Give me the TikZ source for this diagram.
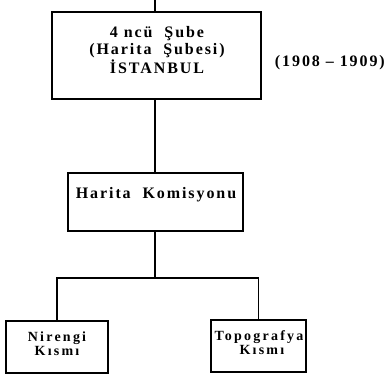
\documentclass[tikz,border=0pt]{standalone}
\usepackage{fontspec}
\setmainfont{Liberation Serif}
\newfontfamily\lsp[LetterSpace=12]{Liberation Serif}
\newfontfamily\lspw[LetterSpace=16]{Liberation Serif}
\usetikzlibrary{positioning}
\begin{document}
\begin{tikzpicture}[x=1pt,y=-1pt,
  box/.style={draw,line width=1.6pt,inner sep=0pt},
  lbl/.style={font=\lsp\bfseries\fontsize{16}{17}\selectfont,align=center,inner sep=0pt},
  slbl/.style={font=\lspw\bfseries\fontsize{14}{14}\selectfont,align=center,inner sep=0pt},
  conn/.style={line width=1.6pt}]
\useasboundingbox (0,0) rectangle (387,376);
\node[box,minimum width=209pt,minimum height=87pt] (b1) at (156.5,55.5) {};
\node[lbl] (t1) at (157,50) {4 ncü \ Şube\\(Harita \ Şubesi)\\İSTANBUL};
\node[lbl,anchor=east] (yr) at (385,63) {(1908 – 1909)};
\node[box,minimum width=175pt,minimum height=58pt] (b2) at (155.5,202) {};
\node[lbl] (t2) at (156,195) {Harita \ Komisyonu};
\node[box,minimum width=102pt,minimum height=52pt] (b3) at (57,347) {};
\node[slbl] (t3) at (57,344) {Nirengi\\Kısmı};
\node[box,minimum width=95pt,minimum height=52pt] (b4) at (258.5,346) {};
\node[slbl] (t4) at (259,343) {Topografya\\\ Kısmı};
\coordinate (top) at (155,0);
\coordinate (j) at (155,278);
\draw[conn] (top) -- (b1.north -| top);
\draw[conn] (b1.south -| top) -- (b2.north -| top);
\draw[conn] (b2.south -| j) -- (j);
\draw[conn] (b3.north) |- (j) -| (b4.north);
\end{tikzpicture}
\end{document}
